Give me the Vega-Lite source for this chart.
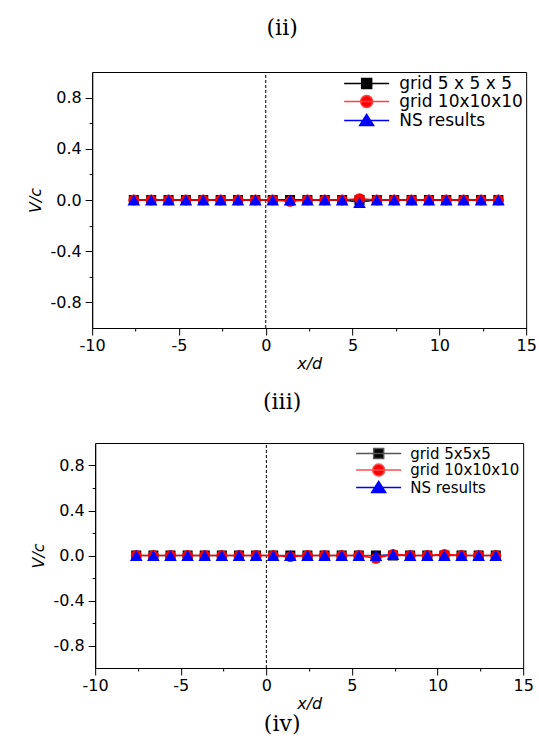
{
  "$schema": "https://vega.github.io/schema/vega-lite/v6.json",
  "padding": {"left": 27, "top": 17, "right": 5, "bottom": 10},
  "title": {"text": "(ii)", "anchor": "middle", "frame": "bounds", "offset": 31},
  "spacing": 28,
  "center": true,
  "datasets": {
    "p2": [
      {"x": -7.6, "g5": 0, "g10": 0, "ns": 0},
      {"x": -6.6, "g5": 0, "g10": 0, "ns": 0},
      {"x": -5.6, "g5": 0, "g10": 0, "ns": 0},
      {"x": -4.6, "g5": 0, "g10": 0, "ns": 0},
      {"x": -3.6, "g5": 0, "g10": 0, "ns": 0},
      {"x": -2.6, "g5": 0, "g10": 0, "ns": 0},
      {"x": -1.6, "g5": 0, "g10": 0, "ns": 0},
      {"x": -0.6, "g5": 0, "g10": 0, "ns": 0},
      {"x": 0.4, "g5": 0, "g10": 0, "ns": 0},
      {"x": 1.4, "g5": 0, "g10": -0.01, "ns": 0},
      {"x": 2.4, "g5": 0, "g10": 0, "ns": 0},
      {"x": 3.4, "g5": 0, "g10": 0, "ns": 0},
      {"x": 4.4, "g5": 0, "g10": 0, "ns": 0},
      {"x": 5.4, "g5": 0, "g10": 0.01, "ns": -0.02},
      {"x": 6.4, "g5": 0, "g10": 0, "ns": 0},
      {"x": 7.4, "g5": 0, "g10": 0, "ns": 0},
      {"x": 8.4, "g5": 0, "g10": 0, "ns": 0},
      {"x": 9.4, "g5": 0, "g10": 0, "ns": 0},
      {"x": 10.4, "g5": 0, "g10": 0, "ns": 0},
      {"x": 11.4, "g5": 0, "g10": 0, "ns": 0},
      {"x": 12.4, "g5": 0, "g10": 0, "ns": 0},
      {"x": 13.4, "g5": 0, "g10": 0, "ns": 0}
    ],
    "p3": [
      {"x": -7.6, "g5": 0, "g10": 0, "ns": 0},
      {"x": -6.6, "g5": 0, "g10": 0, "ns": 0},
      {"x": -5.6, "g5": 0, "g10": 0, "ns": 0},
      {"x": -4.6, "g5": 0, "g10": 0, "ns": 0},
      {"x": -3.6, "g5": 0, "g10": 0, "ns": 0},
      {"x": -2.6, "g5": 0, "g10": 0, "ns": 0},
      {"x": -1.6, "g5": 0, "g10": 0, "ns": 0},
      {"x": -0.6, "g5": 0, "g10": 0, "ns": 0},
      {"x": 0.4, "g5": 0, "g10": 0, "ns": 0},
      {"x": 1.4, "g5": 0, "g10": -0.01, "ns": 0},
      {"x": 2.4, "g5": 0, "g10": 0, "ns": 0},
      {"x": 3.4, "g5": 0, "g10": 0, "ns": 0},
      {"x": 4.4, "g5": 0, "g10": 0, "ns": 0},
      {"x": 5.4, "g5": 0, "g10": 0, "ns": 0},
      {"x": 6.4, "g5": 0, "g10": -0.025, "ns": 0},
      {"x": 7.4, "g5": 0, "g10": 0.01, "ns": 0.01},
      {"x": 8.4, "g5": 0, "g10": 0, "ns": 0},
      {"x": 9.4, "g5": 0, "g10": 0, "ns": 0},
      {"x": 10.4, "g5": 0, "g10": 0.01, "ns": 0},
      {"x": 11.4, "g5": 0, "g10": 0, "ns": 0},
      {"x": 12.4, "g5": 0, "g10": 0, "ns": 0},
      {"x": 13.4, "g5": 0, "g10": 0, "ns": 0}
    ]
  },
  "config": {
    "view": {"stroke": "black", "strokeWidth": 1},
    "title": {"font": "DejaVu Serif", "fontSize": 22, "fontWeight": "normal", "color": "black"},
    "axis": {
      "grid": false, "domainColor": "black", "domainWidth": 1, "tickColor": "black", "tickWidth": 1,
      "labelColor": "black", "labelFont": "DejaVu Sans", "labelFontSize": 16,
      "titleFont": "DejaVu Sans", "titleFontSize": 16, "titleFontStyle": "italic", "titleFontWeight": "normal", "titleColor": "black",
      "labelOverlap": false, "labelFlush": false
    },
    "legend": {
      "orient": "top-right", "offset": 3, "padding": 0, "title": null,
      "labelFont": "DejaVu Sans", "labelColor": "black", "symbolSize": 100, "symbolStrokeWidth": 1.5, "labelOffset": 24
    }
  },
  "resolve": {
    "scale": {"color": "independent", "fill": "independent", "stroke": "independent", "shape": "independent"},
    "legend": {"color": "independent", "fill": "independent", "stroke": "independent", "shape": "independent"}
  },
  "vconcat": [
    {
      "data": {"name": "p2"},
      "transform": [{"fold": ["g5", "g10", "ns"], "as": ["s", "y"]}],
      "width": 434,
      "height": 256,
      "title": {"text": "(iii)", "orient": "bottom", "anchor": "middle", "frame": "bounds", "offset": 21},
      "encoding": {
        "x": {"field": "x", "type": "quantitative", "scale": {"domain": [-10, 15], "nice": false, "zero": false},
          "axis": {"title": "x/d", "values": [-10, -7.5, -5, -2.5, 0, 2.5, 5, 7.5, 10, 12.5, 15],
            "labelExpr": "datum.value % 5 != 0 ? '' : (datum.value < 0 ? '-' : '') + format(abs(datum.value), 'd')",
            "tickSize": {"condition": {"test": "datum.value % 5 != 0", "value": 3}, "value": 7},
            "labelPadding": 2, "titlePadding": 2}},
        "y": {"field": "y", "type": "quantitative", "scale": {"domain": [-1, 1], "nice": false, "zero": false},
          "axis": {"title": "V/c", "values": [-0.8, -0.6, -0.4, -0.2, 0, 0.2, 0.4, 0.6, 0.8],
            "labelExpr": "abs(round(datum.value*10)) % 4 == 2 ? '' : (datum.value < 0 ? '-' : '') + format(abs(datum.value), '.1f')",
            "tickSize": {"condition": {"test": "abs(round(datum.value*10)) % 4 == 2", "value": 3}, "value": 7},
            "labelPadding": 4, "titlePadding": 6}}
      },
      "layer": [
        {"transform": [{"filter": "datum.x == 0.4 && datum.s == 'ns'"}],
          "mark": {"type": "rule", "strokeDash": [3, 2], "color": "black", "strokeWidth": 1},
          "encoding": {"x": {"datum": 0}, "y": {"datum": -1}, "y2": {"datum": 1}}},
        {"transform": [{"filter": "datum.s == 'ns'"}], "mark": {"type": "line", "color": "#0000ff", "strokeWidth": 1}},
        {"transform": [{"filter": "datum.s == 'g5'"}], "mark": {"type": "line", "color": "#000000", "strokeWidth": 1.5}},
        {"transform": [{"filter": "datum.s == 'g10'"}], "mark": {"type": "line", "color": "#ff0000", "strokeWidth": 1.5}},
        {"transform": [{"filter": "datum.s == 'g5'"}], "mark": {"type": "point", "shape": "square", "filled": true, "color": "#000000", "opacity": 1, "size": 100}},
        {"transform": [{"filter": "datum.s == 'g10'"}], "mark": {"type": "point", "shape": "circle", "filled": true, "color": "#ff0000", "opacity": 1, "size": 120}},
        {"transform": [{"filter": "datum.s == 'ns'"}], "mark": {"type": "point", "shape": "triangle-up", "filled": true, "color": "#0000ff", "opacity": 1, "size": 160}},
        {"transform": [{"filter": "datum.x > 100"}],
          "mark": {"type": "point", "filled": true, "opacity": 1, "strokeWidth": 1.5},
          "encoding": {
            "shape": {"field": "s", "type": "nominal",
              "scale": {"domain": ["g5", "g10", "ns"], "range": ["M-4.5,0H4.5M-1,-1H1V1H-1Z", "M-4.5,0H4.5M-1.2,0A1.2,1.2,0,1,1,1.2,0A1.2,1.2,0,1,1,-1.2,0Z", "M-4.5,0H4.5M0,-1.2L1.4,1H-1.4Z"]},
              "legend": {"labelFontSize": 17, "rowPadding": 0, "labelExpr": "datum.label == 'g5' ? 'grid 5 x 5 x 5' : datum.label == 'g10' ? 'grid 10x10x10' : 'NS results'"}},
            "fill": {"field": "s", "type": "nominal", "scale": {"domain": ["g5", "g10", "ns"], "range": ["#000000", "#ff0000", "#0000ff"]}},
            "stroke": {"field": "s", "type": "nominal", "scale": {"domain": ["g5", "g10", "ns"], "range": ["#000000", "#ff4040", "#0000ff"]}}
          }}
      ]
    },
    {
      "data": {"name": "p3"},
      "transform": [{"fold": ["g5", "g10", "ns"], "as": ["s", "y"]}],
      "width": 428,
      "height": 225,
      "title": {"text": "(iv)", "orient": "bottom", "anchor": "middle", "frame": "bounds", "offset": 3},
      "encoding": {
        "x": {"field": "x", "type": "quantitative", "scale": {"domain": [-10, 15], "nice": false, "zero": false},
          "axis": {"title": "x/d", "values": [-10, -7.5, -5, -2.5, 0, 2.5, 5, 7.5, 10, 12.5, 15],
            "labelExpr": "datum.value % 5 != 0 ? '' : (datum.value < 0 ? '-' : '') + format(abs(datum.value), 'd')",
            "tickSize": {"condition": {"test": "datum.value % 5 != 0", "value": 3}, "value": 7},
            "labelPadding": 2, "titlePadding": 2}},
        "y": {"field": "y", "type": "quantitative", "scale": {"domain": [-1, 1], "nice": false, "zero": false},
          "axis": {"title": "V/c", "values": [-0.8, -0.6, -0.4, -0.2, 0, 0.2, 0.4, 0.6, 0.8],
            "labelExpr": "abs(round(datum.value*10)) % 4 == 2 ? '' : (datum.value < 0 ? '-' : '') + format(abs(datum.value), '.1f')",
            "tickSize": {"condition": {"test": "abs(round(datum.value*10)) % 4 == 2", "value": 3}, "value": 7},
            "labelPadding": 4, "titlePadding": 6}}
      },
      "layer": [
        {"transform": [{"filter": "datum.x == 0.4 && datum.s == 'ns'"}],
          "mark": {"type": "rule", "strokeDash": [3, 2], "color": "black", "strokeWidth": 1},
          "encoding": {"x": {"datum": 0}, "y": {"datum": -1}, "y2": {"datum": 1}}},
        {"transform": [{"filter": "datum.s == 'ns'"}], "mark": {"type": "line", "color": "#0000ff", "strokeWidth": 1}},
        {"transform": [{"filter": "datum.s == 'g5'"}], "mark": {"type": "line", "color": "#555555", "strokeWidth": 1.5}},
        {"transform": [{"filter": "datum.s == 'g10'"}], "mark": {"type": "line", "color": "#ff0000", "strokeWidth": 1.5}},
        {"transform": [{"filter": "datum.s == 'g5'"}], "mark": {"type": "point", "shape": "square", "filled": true, "color": "#000000", "opacity": 1, "size": 100}},
        {"transform": [{"filter": "datum.s == 'g10'"}], "mark": {"type": "point", "shape": "circle", "filled": true, "color": "#ff0000", "opacity": 1, "size": 120}},
        {"transform": [{"filter": "datum.s == 'ns'"}], "mark": {"type": "point", "shape": "triangle-up", "filled": true, "color": "#0000ff", "opacity": 1, "size": 160}},
        {"transform": [{"filter": "datum.x > 100"}],
          "mark": {"type": "point", "filled": true, "opacity": 1, "strokeWidth": 1.5},
          "encoding": {
            "shape": {"field": "s", "type": "nominal",
              "scale": {"domain": ["g5", "g10", "ns"], "range": ["M-4.5,0H4.5M-1,-1H1V1H-1Z", "M-4.5,0H4.5M-1.2,0A1.2,1.2,0,1,1,1.2,0A1.2,1.2,0,1,1,-1.2,0Z", "M-4.5,0H4.5M0,-1.2L1.4,1H-1.4Z"]},
              "legend": {"labelFontSize": 15, "rowPadding": -1.5,
                "labelExpr": "datum.label == 'g5' ? 'grid 5x5x5' : datum.label == 'g10' ? 'grid 10x10x10' : 'NS results'"}},
            "fill": {"field": "s", "type": "nominal", "scale": {"domain": ["g5", "g10", "ns"], "range": ["#000000", "#ff0000", "#0000ff"]}},
            "stroke": {"field": "s", "type": "nominal", "scale": {"domain": ["g5", "g10", "ns"], "range": ["#555555", "#ff5050", "#0000ff"]}}
          }}
      ]
    }
  ]
}
